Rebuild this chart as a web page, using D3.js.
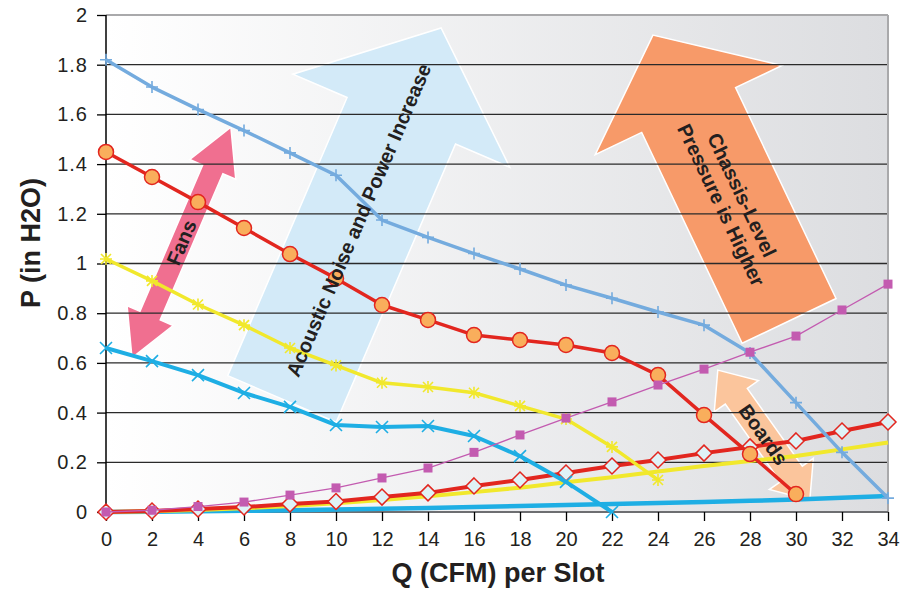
<!DOCTYPE html>
<html>
<head>
<meta charset="utf-8">
<script src="https://cdn.jsdelivr.net/npm/d3@7"></script>
<style>
  body { margin: 0; background: #fff; }
  svg text { font-family: "Liberation Sans", Arial, Helvetica, sans-serif; fill: #231f20; }
</style>
</head>
<body>
<div id="chart"></div>
<script>
// flow (CFM per slot) at every point
var qValues = [0, 2, 4, 6, 8, 10, 12, 14, 16, 18, 20, 22, 24, 26, 28, 30, 32, 34];
var yTicks = [0, 0.2, 0.4, 0.6, 0.8, 1, 1.2, 1.4, 1.6, 1.8, 2];
var yTickLabels = ["0", "0.2", "0.4", "0.6", "0.8", "1", "1.2", "1.4", "1.6", "1.8", "2"];

// fan curves (pressure falls with flow)
var fanHigh = [1.82, 1.71, 1.62, 1.535, 1.445, 1.355, 1.175, 1.105, 1.04, 0.978, 0.913, 0.86, 0.805, 0.752, 0.64, 0.44, 0.24, 0.056];
var fanMidHigh = [1.449, 1.348, 1.247, 1.143, 1.038, 0.94, 0.833, 0.773, 0.712, 0.692, 0.672, 0.64, 0.551, 0.39, 0.233, 0.072];
var fanMid = [1.018, 0.93, 0.835, 0.752, 0.66, 0.59, 0.52, 0.503, 0.48, 0.427, 0.374, 0.262, 0.129];
var fanLow = [0.66, 0.607, 0.551, 0.479, 0.423, 0.35, 0.342, 0.346, 0.306, 0.225, 0.121, 0.0];

// board / chassis impedance curves (pressure rises with flow)
var boardHigh = [0.0, 0.007, 0.022, 0.04, 0.068, 0.097, 0.137, 0.177, 0.24, 0.31, 0.378, 0.443, 0.511, 0.575, 0.643, 0.708, 0.813, 0.917];
var boardMid = [0.0, 0.004, 0.012, 0.02, 0.032, 0.042, 0.06, 0.077, 0.105, 0.129, 0.157, 0.185, 0.209, 0.237, 0.262, 0.286, 0.326, 0.362];
var boardLow = [0.0, 0.003, 0.008, 0.015, 0.024, 0.035, 0.048, 0.063, 0.08, 0.098, 0.12, 0.14, 0.163, 0.185, 0.205, 0.225, 0.252, 0.28];
var boardMin = [0.0, 0.001, 0.003, 0.005, 0.007, 0.01, 0.013, 0.016, 0.02, 0.024, 0.028, 0.032, 0.036, 0.04, 0.045, 0.05, 0.057, 0.064];

var width = 906, height = 590;
var margin = {top: 15, right: 18, bottom: 78, left: 106};
var plotW = width - margin.left - margin.right,
    plotH = height - margin.top - margin.bottom;

var svg = d3.select("#chart").append("svg")
    .attr("width", width)
    .attr("height", height);

var x = d3.scaleLinear().domain([0, 34]).range([margin.left, margin.left + plotW]);
var y = d3.scaleLinear().domain([0, 2]).range([margin.top + plotH, margin.top]);

// background gradient
var grad = svg.append("defs").append("linearGradient")
    .attr("id", "bg").attr("x1", "0%").attr("x2", "100%").attr("y1", "0%").attr("y2", "0%");
grad.append("stop").attr("offset", "0%").attr("stop-color", "#ffffff");
grad.append("stop").attr("offset", "100%").attr("stop-color", "#dcdde0");

svg.append("rect")
    .attr("x", x(0)).attr("y", y(2))
    .attr("width", x(34) - x(0)).attr("height", y(0) - y(2))
    .attr("fill", "url(#bg)");

// annotation arrows (positions in chart units, sizes in px)
function arrowPoints(p0, p1, shaftW, headW, headL, twoHeads) {
  var dx = p1[0] - p0[0], dy = p1[1] - p0[1];
  var len = Math.sqrt(dx * dx + dy * dy);
  var ux = dx / len, uy = dy / len, nx = -uy, ny = ux;
  function pt(base, off) { return [base[0] + nx * off, base[1] + ny * off]; }
  var b2 = [p1[0] - ux * headL, p1[1] - uy * headL];
  if (!twoHeads) {
    return [pt(p0, shaftW / 2), pt(b2, shaftW / 2), pt(b2, headW / 2), p1,
            pt(b2, -headW / 2), pt(b2, -shaftW / 2), pt(p0, -shaftW / 2)];
  }
  var b1 = [p0[0] + ux * headL, p0[1] + uy * headL];
  return [p0, pt(b1, headW / 2), pt(b1, shaftW / 2), pt(b2, shaftW / 2), pt(b2, headW / 2), p1,
          pt(b2, -headW / 2), pt(b2, -shaftW / 2), pt(b1, -shaftW / 2), pt(b1, -headW / 2)];
}

var arrows = [
  {from: [7.65, 0.455], to: [14.57, 1.948], shaft: 118, head: 236, headL: 101, two: false,
   fill: "#d3eaf8", text: ["Acoustic Noise and Power Increase"], t: 0.482, flip: false},
  {from: [29.7, 0.769], to: [23.78, 1.919], shaft: 104, head: 207, headL: 83, two: false,
   fill: "#f79a69", text: ["Chassis-Level", "Pressure is Higher"], t: 0.423, flip: true},
  {from: [1.13, 0.62], to: [5.43, 1.549], shaft: 22, head: 50, headL: 46, two: true,
   fill: "#f06f90", text: ["Fans"], t: 0.5, flip: false},
  {from: [26.6, 0.571], to: [30.6, 0.048], shaft: 27, head: 54, headL: 32, two: true,
   fill: "#fbc59c", text: ["Boards"], t: 0.496, flip: false}
];

arrows.forEach(function(a) {
  a.p0 = [x(a.from[0]), y(a.from[1])];
  a.p1 = [x(a.to[0]), y(a.to[1])];
});

svg.append("g").selectAll("polygon")
  .data(arrows)
  .join("polygon")
    .attr("points", function(a) {
      return arrowPoints(a.p0, a.p1, a.shaft, a.head, a.headL, a.two).map(function(p) { return p.join(","); }).join(" ");
    })
    .attr("fill", function(a) { return a.fill; })
    .attr("stroke", "#fff")
    .attr("stroke-width", 1.5);

// gridlines
svg.append("g")
  .selectAll("line")
  .data(yTicks.filter(function(d) { return d > 0 && d < 2; }))
  .join("line")
    .attr("x1", x(0)).attr("x2", x(34))
    .attr("y1", function(d) { return y(d); }).attr("y2", function(d) { return y(d); })
    .attr("stroke", "#2a2a2a")
    .attr("stroke-width", 1.3);

// frame: top and right
svg.append("line").attr("x1", x(0)).attr("x2", x(34)).attr("y1", y(2)).attr("y2", y(2))
    .attr("stroke", "#a9a9ab").attr("stroke-width", 2);
svg.append("line").attr("x1", x(34)).attr("x2", x(34)).attr("y1", y(2)).attr("y2", y(0))
    .attr("stroke", "#a9a9ab").attr("stroke-width", 2);

// axes
var yAxis = svg.append("g")
    .attr("transform", "translate(" + x(0) + ",0)")
    .call(d3.axisLeft(y).tickValues(yTicks)
      .tickFormat(function(d, i) { return yTickLabels[i]; })
      .tickSize(9).tickPadding(9));
yAxis.select(".domain").attr("stroke", "#000").attr("stroke-width", 1.5)
    .attr("d", "M0," + y(0) + "V" + y(2));
yAxis.selectAll(".tick line").attr("stroke", "#000").attr("stroke-width", 1.3);
yAxis.selectAll(".tick text").style("font-size", "20px").style("letter-spacing", "1px").attr("fill", "#231f20");

var xAxis = svg.append("g")
    .attr("transform", "translate(0," + y(0) + ")")
    .call(d3.axisBottom(x).tickValues(qValues).tickFormat(d3.format("d"))
      .tickSize(9).tickPadding(11));
xAxis.select(".domain").attr("stroke", "#6d6e71").attr("stroke-width", 2)
    .attr("d", "M" + x(0) + ",0H" + x(34));
xAxis.selectAll(".tick line").attr("stroke", "#000").attr("stroke-width", 1.3);
xAxis.selectAll(".tick text").style("font-size", "20px").attr("fill", "#231f20");

// series
var markerPaths = {
  plus: "M-6,0H6M0,-6V6",
  cross: "M-6,-6L6,6M-6,6L6,-6",
  star: "M-6,0H6M0,-6V6M-5,-5L5,5M-5,5L5,-5",
  diamond: "M0,-8L8,0L0,8L-8,0Z",
  square: "M-4.5,-4.5H4.5V4.5H-4.5Z"
};

var series = [
  {values: boardMin, color: "#1eaee4", width: 4.5, marker: null},
  {values: boardLow, color: "#f1e82c", width: 4, marker: null},
  {values: boardMid, color: "#e2261f", width: 4, marker: "diamond", mFill: "#dff2f7", mStroke: "#e2261f"},
  {values: fanLow, color: "#1eaee4", width: 4, marker: "cross", mStroke: "#1eaee4"},
  {values: fanMid, color: "#f1e82c", width: 3.5, marker: "star", mStroke: "#f1e82c"},
  {values: fanMidHigh, color: "#e2261f", width: 3.5, marker: "circle", mFill: "#f9ae5c", mStroke: "#e2261f"},
  {values: fanHigh, color: "#74abde", width: 3.5, marker: "plus", mStroke: "#74abde"},
  {values: boardHigh, color: "#c35bb0", width: 1.3, marker: "square", mFill: "#c35bb0", mStroke: "none"}
];

var line = d3.line()
    .x(function(d, i) { return x(qValues[i]); })
    .y(function(d) { return y(d); });

series.forEach(function(s) {
  var g = svg.append("g");
  g.append("path")
    .datum(s.values)
    .attr("d", line)
    .attr("fill", "none")
    .attr("stroke", s.color)
    .attr("stroke-width", s.width)
    .attr("stroke-linejoin", "round");
  if (!s.marker) return;
  var pts = g.selectAll(".m").data(s.values).join(s.marker === "circle" ? "circle" : "path")
    .attr("class", "m");
  if (s.marker === "circle") {
    pts.attr("cx", function(d, i) { return x(qValues[i]); })
       .attr("cy", function(d) { return y(d); })
       .attr("r", 7.5)
       .attr("fill", s.mFill).attr("stroke", s.mStroke).attr("stroke-width", 1.5);
  } else {
    var filled = s.mFill !== undefined;
    pts.attr("d", markerPaths[s.marker])
       .attr("transform", function(d, i) { return "translate(" + x(qValues[i]) + "," + y(d) + ")"; })
       .attr("fill", filled ? s.mFill : "none")
       .attr("stroke", s.mStroke)
       .attr("stroke-width", filled ? 1.5 : 1.6);
  }
});

// arrow labels
arrows.forEach(function(a) {
  var cx = a.p0[0] + (a.p1[0] - a.p0[0]) * a.t,
      cy = a.p0[1] + (a.p1[1] - a.p0[1]) * a.t;
  var ang = Math.atan2(a.p1[1] - a.p0[1], a.p1[0] - a.p0[0]) * 180 / Math.PI;
  if (a.flip) ang += 180;
  var n = a.text.length, lh = 23;
  var txt = svg.append("text")
    .attr("transform", "translate(" + cx + "," + cy + ") rotate(" + ang + ")")
    .attr("text-anchor", "middle")
    .style("font-size", "20px")
    .style("font-weight", "bold");
  a.text.forEach(function(s, i) {
    txt.append("tspan")
      .attr("x", 0)
      .attr("y", (i - (n - 1) / 2) * lh)
      .attr("dy", "0.35em")
      .text(s);
  });
});

// axis titles
svg.append("text")
    .attr("x", 498).attr("y", 582)
    .attr("text-anchor", "middle")
    .style("font-size", "27px").style("font-weight", "bold")
    .text("Q (CFM) per Slot");

svg.append("text")
    .attr("transform", "translate(40,243) rotate(-90)")
    .attr("text-anchor", "middle")
    .style("font-size", "27px").style("font-weight", "bold")
    .text("P (in H2O)");
</script>
</body>
</html>
